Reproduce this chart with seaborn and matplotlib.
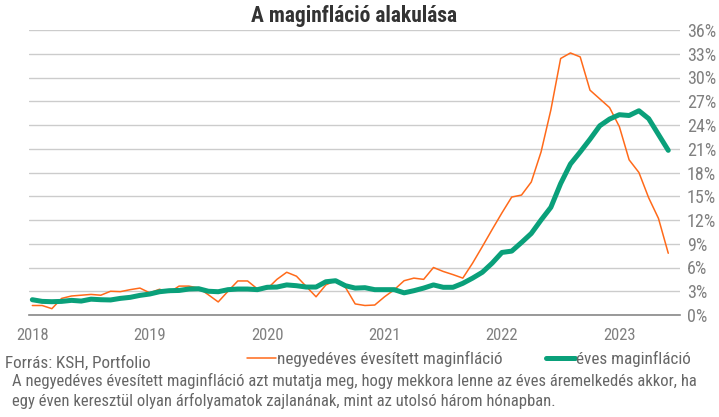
import matplotlib
matplotlib.use("Agg")
import matplotlib.pyplot as plt
from matplotlib import font_manager
from matplotlib.lines import Line2D
import pandas as pd
import seaborn as sns

# havi adatok, 2018 jan - 2023 jun
negyedeves = [1.2, 1.2, 0.8, 2.1, 2.4, 2.5, 2.6, 2.5, 3.0, 2.95,
              3.2, 3.4, 2.8, 3.25, 2.85, 3.65, 3.65, 3.4, 2.55, 1.65,
              3.0, 4.3, 4.3, 3.3, 3.3, 4.5, 5.4, 4.9, 3.6, 2.3,
              3.8, 4.35, 3.5, 1.4, 1.2, 1.26, 2.3, 3.2, 4.33, 4.66,
              4.5, 6.0, 5.5, 5.1, 4.66, 6.55, 8.65, 10.8, 12.9, 14.9,
              15.15, 16.8, 20.6, 25.9, 32.4, 33.1, 32.6, 28.4, 27.3, 26.2,
              23.8, 19.6, 18.0, 14.8, 12.2, 7.8]
eves = [1.93, 1.72, 1.68, 1.72, 1.85, 1.76, 2.0, 1.93, 1.9, 2.1,
        2.23, 2.48, 2.65, 2.94, 3.07, 3.1, 3.28, 3.32, 3.0, 2.94,
        3.2, 3.28, 3.28, 3.2, 3.5, 3.53, 3.8, 3.7, 3.53, 3.53,
        4.2, 4.33, 3.7, 3.4, 3.45, 3.2, 3.2, 3.2, 2.8, 3.07,
        3.4, 3.8, 3.5, 3.5, 4.0, 4.66, 5.4, 6.55, 7.9, 8.07,
        9.16, 10.3, 12.0, 13.6, 16.6, 19.07, 20.6, 22.2, 23.9, 24.75,
        25.3, 25.2, 25.8, 24.8, 22.8, 20.8]
years = ["2018", "2019", "2020", "2021", "2022", "2023"]
pct_ticks = list(range(0, 37, 3))

label_orange = "negyedéves évesített maginfláció"
label_green = "éves maginfláció"

orange = "#ff6a1a"
green = "#0aa07a"

sns.set_theme(style="white")
installed = {f.name for f in font_manager.fontManager.ttflist}
fams = [f for f in ["Roboto Condensed", "Liberation Sans Narrow", "Roboto"] if f in installed]
plt.rcParams["font.family"] = fams + ["DejaVu Sans"]

df = pd.DataFrame({"honap": range(len(eves)), "negyedeves": negyedeves, "eves": eves})

fig = plt.figure(figsize=(7.19, 4.17), dpi=100)
ax = fig.add_axes([29 / 719, 1 - 315 / 417, 651 / 719, 285 / 417])

sns.lineplot(data=df, x="honap", y="negyedeves", color=orange, linewidth=1.1, ax=ax)
sns.lineplot(data=df, x="honap", y="eves", color=green, linewidth=3.6, ax=ax)

ax.set_xlim(-0.34, 66.2)
ax.set_ylim(0, 36)
ax.set_xticks([12 * i for i in range(len(years))])
ax.set_xticklabels(years)
ax.set_yticks(pct_ticks)
ax.set_yticklabels([f"{v}%" for v in pct_ticks])
ax.yaxis.tick_right()
ax.set_xlabel("")
ax.set_ylabel("")
ax.grid(axis="y", color="#cccccc", linewidth=1)
ax.grid(axis="x", visible=False)
for s in ["top", "left", "right"]:
    ax.spines[s].set_visible(False)
ax.spines["bottom"].set_color("#888888")
ax.spines["bottom"].set_linewidth(1.2)
ax.tick_params(axis="both", length=0, labelcolor="#808080")
ax.tick_params(axis="y", labelsize=13, pad=5)
ax.tick_params(axis="x", labelsize=12, pad=9)

fig.text(354 / 719, 1 - 16 / 417, "A maginfláció alakulása", ha="center", va="center",
         fontsize=15.5, fontweight="bold", color="#333333")

handles = [Line2D([], [], color=orange, linewidth=1.1), Line2D([], [], color=green, linewidth=3.6)]
fig.legend(handles, [label_orange, label_green], loc="center left",
           bbox_to_anchor=(247 / 719, 1 - 359 / 417), ncol=2, frameon=False,
           fontsize=12.3, handlelength=1.68, handletextpad=0.08, columnspacing=2.55,
           borderpad=0, borderaxespad=0, labelcolor="#666666")

fig.text(5 / 719, 1 - 363 / 417, "Forrás: KSH, Portfolio", ha="left", va="center",
         fontsize=12.3, color="#666666")
fig.text(12 / 719, 1 - 381 / 417,
         "A negyedéves évesített maginfláció azt mutatja meg, hogy mekkora lenne az éves áremelkedés akkor, ha",
         ha="left", va="center", fontsize=12, color="#666666")
fig.text(12 / 719, 1 - 401 / 417,
         "egy éven keresztül olyan árfolyamatok zajlanának, mint az utolsó három hónapban.",
         ha="left", va="center", fontsize=12, color="#666666")

fig.savefig("out.png", dpi=100)
